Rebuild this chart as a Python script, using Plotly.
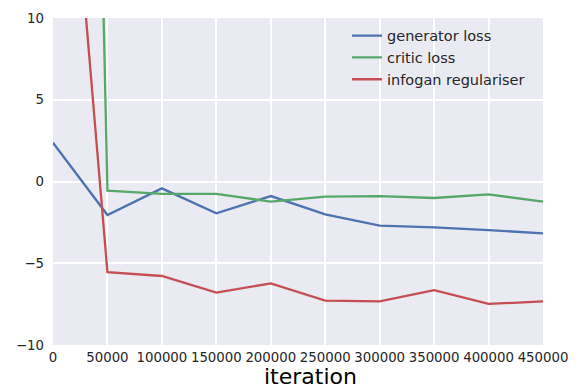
import plotly.graph_objects as go

# Values
iterations = [0, 50000, 100000, 150000, 200000, 250000, 300000, 350000, 400000, 450000]
generator_loss = [2.37, -2.05, -0.42, -1.95, -0.89, -2.01, -2.70, -2.80, -2.97, -3.17]
critic_loss = [150.0, -0.56, -0.76, -0.76, -1.23, -0.93, -0.89, -1.01, -0.79, -1.23]
infogan_reg = [34.0, -5.55, -5.78, -6.80, -6.23, -7.29, -7.33, -6.64, -7.49, -7.33]

x_ticks = list(range(0, 450001, 50000))
y_ticks = [-10, -5, 0, 5, 10]

SERIES = [
    ("generator loss", generator_loss, "#4C72B0"),
    ("critic loss", critic_loss, "#55A868"),
    ("infogan regulariser", infogan_reg, "#C44E52"),
]

fig = go.Figure()

for name, values, color in SERIES:
    fig.add_trace(go.Scatter(
        x=iterations,
        y=values,
        mode="lines",
        name=name,
        line=dict(color=color, width=2.3),
    ))

# page body has an 8px margin, so the figure is a bit smaller than the window
fig.update_layout(
    width=573,
    height=380,
    margin=dict(l=45, r=38, t=10, b=43),
    paper_bgcolor="white",
    plot_bgcolor="#EAEAF2",
    font=dict(family="DejaVu Sans", size=13.3, color="#262626"),
    showlegend=True,
    legend=dict(
        x=0.6, y=0.995, xanchor="left", yanchor="top",
        bgcolor="rgba(0,0,0,0)",
        font=dict(size=14.5, color="#262626"),
        tracegroupgap=0,
    ),
    xaxis=dict(
        range=[0, 450000],
        tickvals=x_ticks,
        ticktext=[str(v) for v in x_ticks],
        tickangle=0,
        showgrid=True, gridcolor="white", gridwidth=1.5,
        zeroline=False, showline=False,
        ticks="", ticklabelstandoff=3,
        automargin=False,
    ),
    yaxis=dict(
        range=[-10, 10],
        tickvals=y_ticks,
        showgrid=True, gridcolor="white", gridwidth=1.5,
        zeroline=False, showline=False,
        ticks="", ticklabelstandoff=8,
        automargin=False,
    ),
    annotations=[dict(
        text="iteration",
        xref="paper", yref="paper",
        x=0.526, y=-0.096,
        xanchor="center", yanchor="middle",
        showarrow=False,
        font=dict(size=22, color="black"),
    )],
)

fig.write_html("out.html")
